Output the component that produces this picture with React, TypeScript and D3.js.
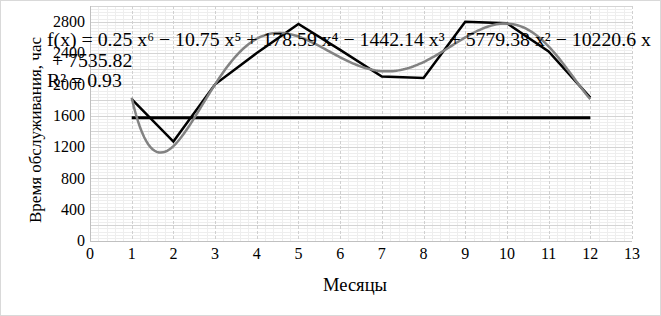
import React from "react";
import * as d3 from "d3";

const months = [1, 2, 3, 4, 5, 6, 7, 8, 9, 10, 11, 12];
const hours = [1810, 1270, 2000, 2400, 2770, 2440, 2100, 2080, 2800, 2780, 2420, 1830];
const normValue = 1572;
const xTicks = [0, 1, 2, 3, 4, 5, 6, 7, 8, 9, 10, 11, 12, 13];
const yTicks = [0, 400, 800, 1200, 1600, 2000, 2400, 2800];
const eqLines = [
  "f(x) = 0.25 x\u2076 \u2212 10.75 x\u2075 + 178.59 x\u2074 \u2212 1442.14 x\u00b3 + 5779.38 x\u00b2 \u2212 10220.6 x",
  " + 7535.82",
  "R\u00b2 = 0.93",
];
const xTitle = "Месяцы";
const yTitle = "Время обслуживания, час";

function polyFit(xs: number[], ys: number[], deg: number) {
  const c = 6.5, s = 5.5;
  const n = deg + 1;
  const A: number[][] = Array.from({ length: n }, () => new Array(n + 1).fill(0));
  xs.forEach((x0, k) => {
    const x = (x0 - c) / s;
    const p: number[] = [];
    for (let i = 0; i < n; i++) p.push(Math.pow(x, i));
    for (let i = 0; i < n; i++) {
      for (let j = 0; j < n; j++) A[i][j] += p[i] * p[j];
      A[i][n] += p[i] * ys[k];
    }
  });
  for (let i = 0; i < n; i++) {
    let piv = i;
    for (let r = i + 1; r < n; r++) if (Math.abs(A[r][i]) > Math.abs(A[piv][i])) piv = r;
    [A[i], A[piv]] = [A[piv], A[i]];
    for (let r = 0; r < n; r++) {
      if (r === i) continue;
      const f = A[r][i] / A[i][i];
      for (let col = i; col <= n; col++) A[r][col] -= f * A[i][col];
    }
  }
  const coef = A.map((row, i) => row[n] / row[i]);
  return (x0: number) => {
    const x = (x0 - c) / s;
    let v = 0;
    for (let i = n - 1; i >= 0; i--) v = v * x + coef[i];
    return v;
  };
}

export default function App() {
  const W = 661, H = 316;
  const left = 90, right = 632, top = 6, bottom = 241;
  const x = d3.scaleLinear().domain([0, 13]).range([left, right]);
  const y = d3.scaleLinear().domain([0, 3000]).range([bottom, top]);

  const fit = polyFit(months, hours, 6);
  const trendPts = d3.range(1, 12.0001, 0.05).map((t) => [t, fit(t)] as [number, number]);
  const line = d3.line<[number, number]>().x((d) => x(d[0])).y((d) => y(d[1]));
  const dataPts = months.map((m, i) => [m, hours[i]] as [number, number]);

  const minorX = d3.range(0, 13.0001, 0.2).filter((v) => Math.abs(v - Math.round(v)) > 1e-6);
  const minorY = d3.range(0, 3000.001, 40).filter((v) => v % 200 !== 0);
  const majorY = d3.range(0, 3000.001, 200);
  const font = "'Liberation Serif', 'Times New Roman', serif";

  return (
    <svg width={W} height={H} style={{ position: "absolute", left: 0, top: 0, background: "#fff" }}>
      <rect x={0.5} y={0.5} width={W - 1} height={H - 1} fill="#fff" stroke="#d9d9d9" />
      <g>
        {minorY.map((v) => (
          <line key={"my" + v} x1={left} x2={right} y1={Math.round(y(v)) + 0.5} y2={Math.round(y(v)) + 0.5} stroke="#eeeeee" />
        ))}
        {minorX.map((v) => (
          <line key={"mx" + v} x1={Math.round(x(v)) + 0.5} x2={Math.round(x(v)) + 0.5} y1={top} y2={bottom} stroke="#eeeeee" />
        ))}
        {majorY.map((v) => (
          <line key={"My" + v} x1={left} x2={right} y1={Math.round(y(v)) + 0.5} y2={Math.round(y(v)) + 0.5} stroke="#d4d4d4" />
        ))}
        {xTicks.map((v) => (
          <line key={"Mx" + v} x1={Math.round(x(v)) + 0.5} x2={Math.round(x(v)) + 0.5} y1={top} y2={bottom} stroke="#d0d0d0" strokeDasharray="3,2" />
        ))}
        <line x1={left + 0.5} x2={left + 0.5} y1={top} y2={bottom} stroke="#c0c0c0" />
        <line x1={left} x2={right} y1={bottom + 0.5} y2={bottom + 0.5} stroke="#c0c0c0" />
      </g>
      <g fontFamily={font} fontSize={16} fill="#000">
        {yTicks.map((v) => (
          <text key={"yt" + v} x={left - 5} y={y(v)} dy="0.33em" textAnchor="end">{v}</text>
        ))}
        {xTicks.map((v) => (
          <text key={"xt" + v} x={x(v)} y={259} textAnchor="middle">{v}</text>
        ))}
        <text x={355} y={291} textAnchor="middle" fontSize={18.5}>{xTitle}</text>
        <text transform={`translate(41, 130) rotate(-90)`} textAnchor="middle" fontSize={17}>{yTitle}</text>
      </g>
      <path d={line([[1, normValue], [12, normValue]]) || ""} fill="none" stroke="#000" strokeWidth={3} />
      <path d={line(dataPts) || ""} fill="none" stroke="#000" strokeWidth={2.5} strokeLinejoin="miter" />
      <path d={line(trendPts) || ""} fill="none" stroke="#828282" strokeWidth={2.5} />
      <g fontFamily={font} fontSize={19.8} fill="#000">
        {eqLines.map((t, i) => (
          <text key={"eq" + i} x={47} y={46 + i * 20.7} style={{ whiteSpace: "pre" }}>{t}</text>
        ))}
      </g>
    </svg>
  );
}
